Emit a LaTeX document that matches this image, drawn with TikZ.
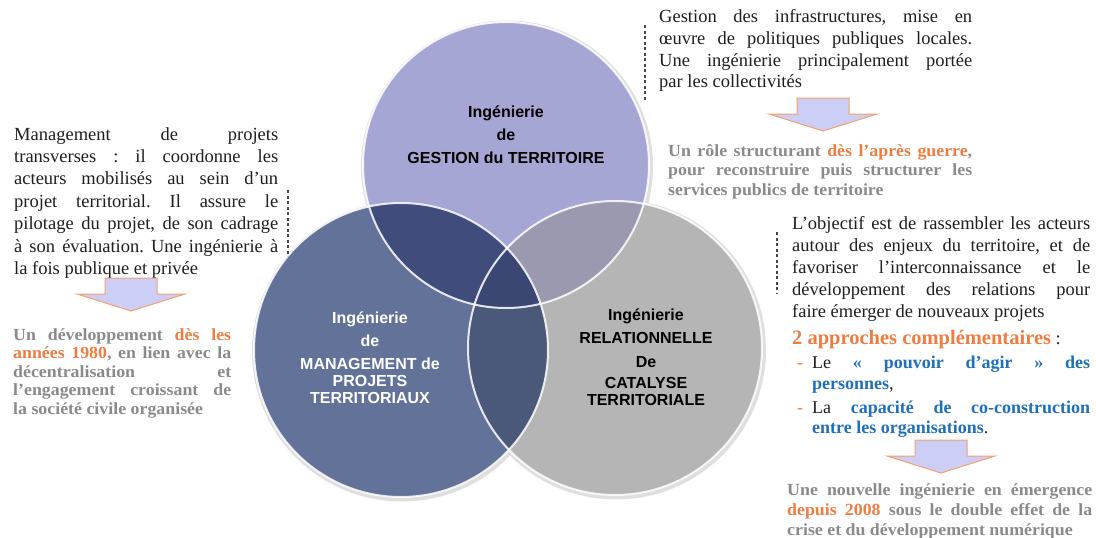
\documentclass[tikz,border=0pt]{standalone}
\usepackage{fontspec}
\setmainfont{Liberation Serif}
\setsansfont{Liberation Sans}
\newfontfamily\gras{Liberation Serif}[FakeStretch=1.05]
\frenchspacing

\definecolor{hautFond}{RGB}{166,166,212}
\definecolor{gaucheFond}{RGB}{99,114,152}
\definecolor{droiteFond}{RGB}{181,181,181}
\definecolor{hgFond}{RGB}{64,76,124}
\definecolor{hdFond}{RGB}{154,153,176}
\definecolor{gdFond}{RGB}{74,88,121}
\definecolor{centreFond}{RGB}{59,71,114}
\definecolor{orangeTxt}{RGB}{237,125,65}
\definecolor{grisTxt}{RGB}{138,138,138}
\definecolor{bleuTxt}{RGB}{31,112,184}
\definecolor{noirTxt}{RGB}{30,30,30}
\definecolor{flecheFond}{RGB}{204,206,245}
\definecolor{flecheBord}{RGB}{242,160,110}
\definecolor{pointTxt}{RGB}{70,70,70}

\newcommand\ligne[1]{\hbox to\hsize{#1}}
\newcommand\bloc[2]{\vtop{\hsize=#1pt\relax#2}}

\tikzset{
	texte/.style={anchor=base west, inner sep=0pt, text=noirTxt, font=\frenchspacing\fontsize{18.5}{22}\selectfont},
	gris/.style={anchor=base west, inner sep=0pt, text=grisTxt, font=\frenchspacing\gras\bfseries\fontsize{17}{18.5}\selectfont},
	titre/.style={align=center, inner sep=0pt, font=\sffamily\bfseries\fontsize{16}{17}\selectfont},
	pointille/.style={draw=pointTxt, line width=1.2pt, dash pattern=on 3pt off 2.5pt},
	fleche/.pic={\draw[fill=flecheFond, draw=flecheBord, line width=1pt] (-26,0) -- (26,0) -- (26,16) -- (54,16) -- (0,33) -- (-54,16) -- (-26,16) -- cycle;}
}

\begin{document}
\begin{tikzpicture}[x=1pt,y=-1pt]
	\useasboundingbox (0,0) rectangle (1096,538);
	\coordinate (cH) at (506,165);
	\coordinate (cG) at (401,350);
	\coordinate (cD) at (615,348);
	\fill[gray!25] (cH) ++(1,1.5) circle (146);
	\fill[gray!25] (cG) ++(1,1.5) circle (150);
	\fill[gray!25] (cD) ++(1,1.5) circle (150);
	\fill[hautFond] (cH) circle (143);
	\fill[gaucheFond] (cG) circle (147);
	\fill[droiteFond] (cD) circle (147);
	\begin{scope}
		\clip (cH) circle (143);
		\fill[hgFond] (cG) circle (147);
		\fill[hdFond] (cD) circle (147);
	\end{scope}
	\begin{scope}
		\clip (cG) circle (147);
		\fill[gdFond] (cD) circle (147);
	\end{scope}
	\begin{scope}
		\clip (cH) circle (143);
		\clip (cG) circle (147);
		\fill[centreFond] (cD) circle (147);
	\end{scope}
	\draw[white, line width=2pt, opacity=.85] (cH) circle (143);
	\draw[white, line width=2pt, opacity=.85] (cG) circle (147);
	\draw[white, line width=2pt, opacity=.85] (cD) circle (147);

	\node[titre] (gestion) at (506,135) {Ingénierie\\[6pt]de\\[6pt]GESTION du TERRITOIRE};
	\node[titre, text=white] (management) at (370,357.5) {Ingénierie\\[6pt]de\\[6pt]MANAGEMENT de\\PROJETS\\TERRITORIAUX};
	\node[titre] (relation) at (646,357.5) {Ingénierie\\[6pt]RELATIONNELLE\\[7pt]De\\[4pt]CATALYSE\\TERRITORIALE};

	\node[texte, font=\frenchspacing\fontsize{18.5}{22.4}\selectfont] (managTxt) at (14,140) {\bloc{264}{
		\ligne{Management de projets}
		\ligne{transverses : il coordonne les}
		\ligne{acteurs mobilisés au sein d’un}
		\ligne{projet territorial. Il assure le}
		\ligne{pilotage du projet, de son cadrage}
		\ligne{à son évaluation. Une ingénierie à}
		\hbox{la fois publique et privée}}};
	\node[gris] (managRole) at (13,340) {\bloc{218}{
		\ligne{Un développement \textcolor{orangeTxt}{dès les}}
		\ligne{\textcolor{orangeTxt}{années 1980}, en lien avec la}
		\ligne{décentralisation et}
		\ligne{l’engagement croissant de}
		\hbox{la société civile organisée}}};

	\node[texte] (gestionTxt) at (659,22) {\bloc{313}{
		\ligne{Gestion des infrastructures, mise en}
		\ligne{œuvre de politiques publiques locales.}
		\ligne{Une ingénierie principalement portée}
		\hbox{par les collectivités}}};
	\node[gris, font=\frenchspacing\gras\bfseries\fontsize{17}{19.5}\selectfont] (gestionRole) at (668,156) {\bloc{304}{
		\ligne{Un rôle structurant \textcolor{orangeTxt}{dès l’après guerre},}
		\ligne{pour reconstruire puis structurer les}
		\hbox{services publics de territoire}}};

	\node[texte] (relationTxt) at (792,229) {\bloc{298}{
		\ligne{L’objectif est de rassembler les acteurs}
		\ligne{autour des enjeux du territoire, et de}
		\ligne{favoriser l’interconnaissance et le}
		\ligne{développement des relations pour}
		\hbox{faire émerger de nouveaux projets}}};
	\node[texte] (approches) at (792,344) {\textcolor{orangeTxt}{\bfseries\fontsize{20.5}{22}\selectfont 2 approches complémentaires} :};
	\node[texte, font=\frenchspacing\fontsize{18}{21}\selectfont] (pouvoir) at (812,368) {\bloc{278}{
		\ligne{\llap{\textcolor{orangeTxt}{-}\kern9pt}Le \textcolor{bleuTxt}{\bfseries « pouvoir d’agir » des}}
		\hbox{\textcolor{bleuTxt}{\bfseries personnes},}}};
	\node[texte, font=\frenchspacing\fontsize{18}{20}\selectfont] (capacite) at (812,413) {\bloc{278}{
		\ligne{\llap{\textcolor{orangeTxt}{-}\kern9pt}La \textcolor{bleuTxt}{\bfseries capacité de co-construction}}
		\hbox{\textcolor{bleuTxt}{\bfseries entre les organisations}.}}};
	\node[gris, font=\frenchspacing\gras\bfseries\fontsize{17}{20}\selectfont] (relationRole) at (787,495) {\bloc{305}{
		\ligne{Une nouvelle ingénierie en émergence}
		\ligne{\textcolor{orangeTxt}{depuis 2008} sous le double effet de la}
		\hbox{crise et du développement numérique}}};

	\draw[pointille] (288,190) -- (288,256);
	\draw[pointille] (645,25) -- (645,101);
	\draw[pointille] (777,232) -- (777,293);
	\pic at (131,278) {fleche};
	\pic at (823,98) {fleche};
	\pic at (941,440) {fleche};
\end{tikzpicture}
\end{document}
